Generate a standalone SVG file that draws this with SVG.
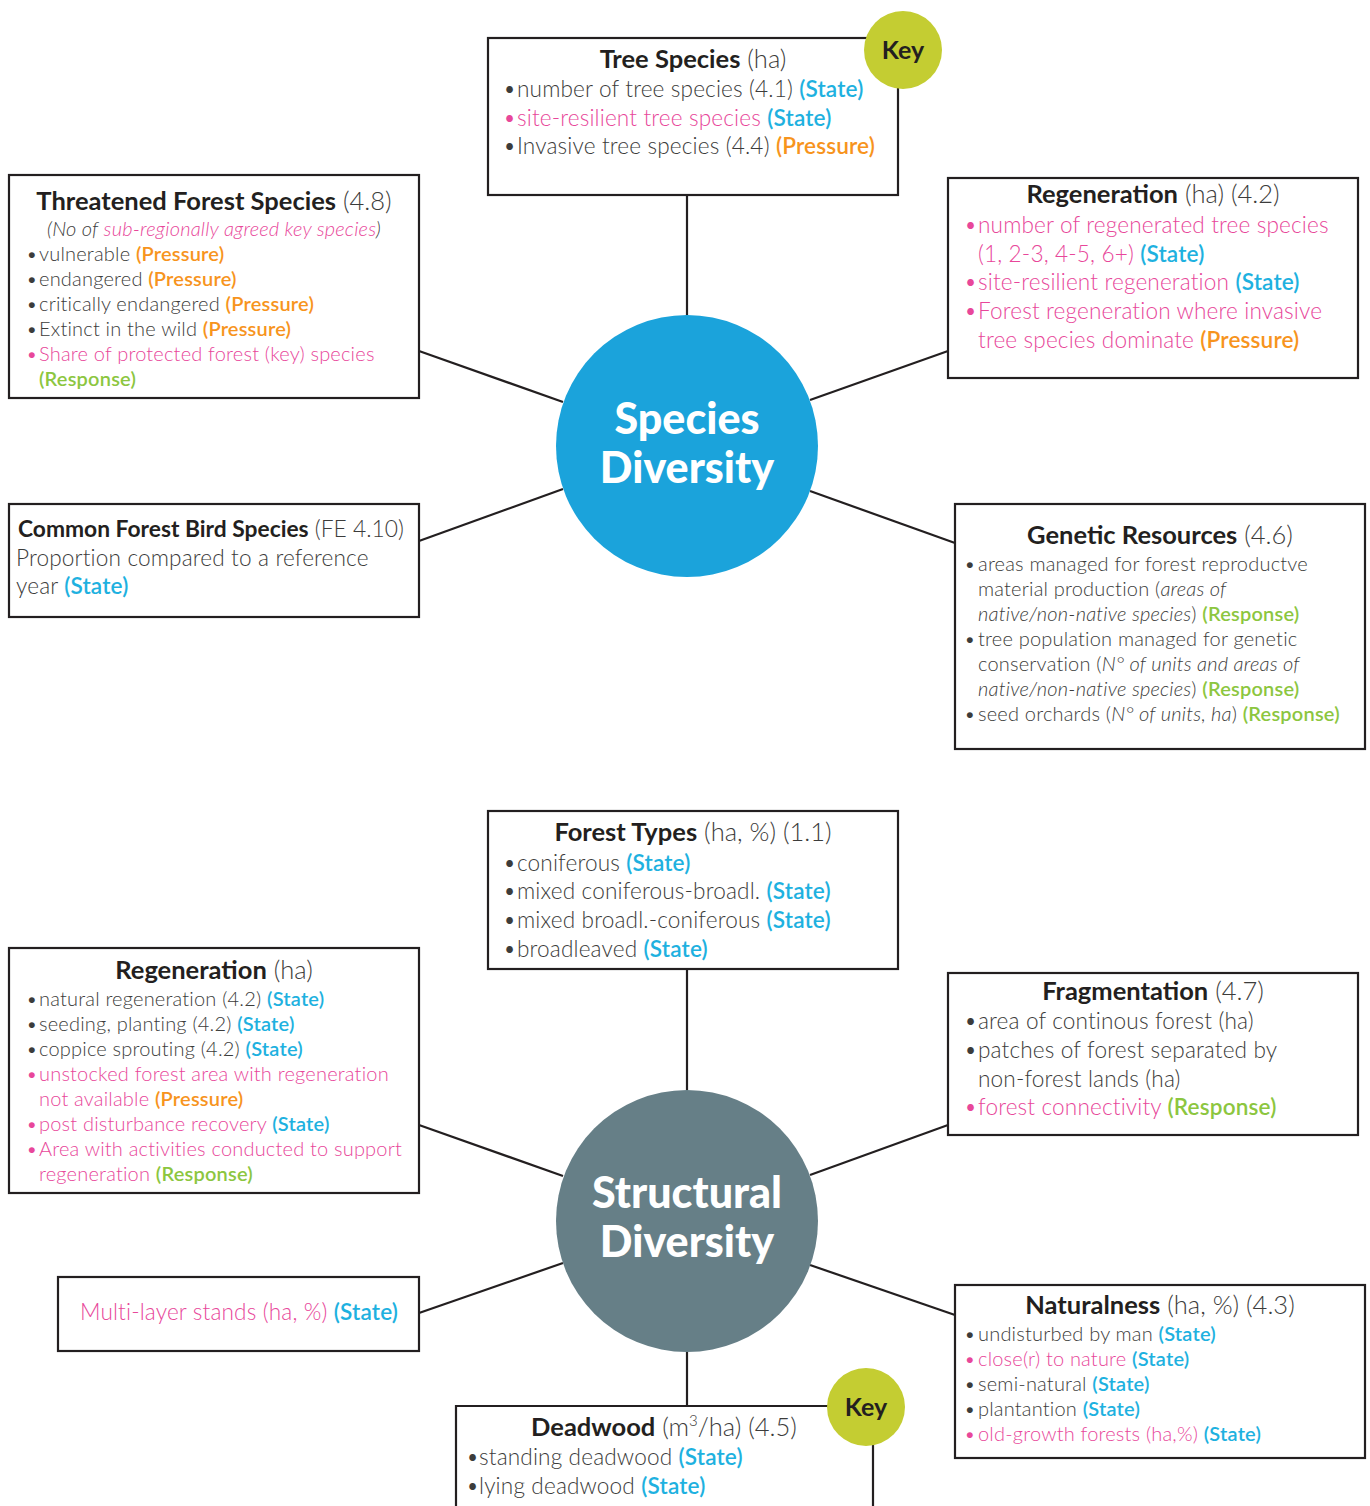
<svg xmlns="http://www.w3.org/2000/svg" width="1370" height="1506" viewBox="0 0 1370 1506">
<style>
.box{fill:#fff;stroke:#231f20;stroke-width:2.2}
.ln{stroke:#231f20;stroke-width:2.2;fill:none}
text{font-family:Lato,"Open Sans","Liberation Sans",sans-serif;font-weight:300;fill:#3c3c3b}
.f22{font-size:22.6px;letter-spacing:0.15px}
.f19{font-size:20px;letter-spacing:0.2px}
.ti{font-size:25.5px}
.b{font-weight:700;fill:#231f20}
.p{fill:#e8479a}
.s{fill:#1eb1e0;font-weight:600}
.o{fill:#f7941d;font-weight:600}
.g{fill:#8cc63f;font-weight:600}
.i{font-style:italic}
.c{text-anchor:middle}
.ct{font-weight:900;fill:#fff;font-size:43px;text-anchor:middle}
.key{fill:#c4cd32}
.kt{font-weight:700;fill:#231f20;font-size:25px;text-anchor:middle}
</style>
<rect width="1370" height="1506" fill="#fff"/>
<g id="connectors">
<line class="ln" x1="687" y1="195" x2="687" y2="316"/>
<line class="ln" x1="419" y1="351" x2="563" y2="402"/>
<line class="ln" x1="419" y1="541" x2="563" y2="489"/>
<line class="ln" x1="948" y1="351" x2="810" y2="400"/>
<line class="ln" x1="810" y1="491" x2="955" y2="543"/>
<line class="ln" x1="687" y1="969" x2="687" y2="1090"/>
<line class="ln" x1="419" y1="1125" x2="563" y2="1176"/>
<line class="ln" x1="419" y1="1313" x2="563" y2="1263"/>
<line class="ln" x1="948" y1="1125" x2="810" y2="1175"/>
<line class="ln" x1="810" y1="1265" x2="955" y2="1315"/>
<line class="ln" x1="687" y1="1352" x2="687" y2="1406"/>
</g>
<g id="species-diversity">
<circle cx="687" cy="446" r="131" fill="#1ba3db"/>
<text class="ct" x="687" y="434">Species</text>
<text class="ct" x="687" y="483">Diversity</text>
</g>
<g id="structural-diversity">
<circle cx="687" cy="1221" r="131" fill="#667f87"/>
<text class="ct" x="687" y="1208">Structural</text>
<text class="ct" x="687" y="1257">Diversity</text>
</g>
<g id="tree-species">
<rect class="box" x="488" y="38" width="410" height="157"/>
<text class="ti c" x="693" y="68"><tspan class="b">Tree Species</tspan> (ha)</text>
<text class="f22" x="503" y="97">•<tspan x="517">number of tree species (4.1) <tspan class="s">(State)</tspan></tspan></text>
<text class="f22 p" x="503" y="126">•<tspan x="517">site-resilient tree species <tspan class="s">(State)</tspan></tspan></text>
<text class="f22" x="503" y="154">•<tspan x="517">Invasive tree species (4.4) <tspan class="o">(Pressure)</tspan></tspan></text>
</g>
<g id="key-top">
<circle class="key" cx="903" cy="50" r="39"/>
<text class="kt" x="903" y="59">Key</text>
</g>
<g id="threatened">
<rect class="box" x="9" y="175" width="410" height="223"/>
<text class="ti c" x="214" y="210"><tspan class="b">Threatened Forest Species</tspan> (4.8)</text>
<text class="f19 c i" x="214" y="236">(No of <tspan class="p">sub-regionally agreed key species</tspan>)</text>
<text class="f19" x="26" y="261">•<tspan x="39">vulnerable <tspan class="o">(Pressure)</tspan></tspan></text>
<text class="f19" x="26" y="286">•<tspan x="39">endangered <tspan class="o">(Pressure)</tspan></tspan></text>
<text class="f19" x="26" y="311">•<tspan x="39">critically endangered <tspan class="o">(Pressure)</tspan></tspan></text>
<text class="f19" x="26" y="336">•<tspan x="39">Extinct in the wild <tspan class="o">(Pressure)</tspan></tspan></text>
<text class="f19 p" x="26" y="361">•<tspan x="39">Share of protected forest (key) species</tspan></text>
<text class="f19 g" x="39" y="386">(Response)</text>
</g>
<g id="regeneration-top">
<rect class="box" x="948" y="178" width="410" height="200"/>
<text class="ti c" x="1153" y="203"><tspan class="b">Regeneration</tspan> (ha) (4.2)</text>
<text class="f22 p" x="964" y="233">•<tspan x="978">number of regenerated tree species</tspan></text>
<text class="f22 p" x="978" y="262">(1, 2-3, 4-5, 6+) <tspan class="s">(State)</tspan></text>
<text class="f22 p" x="964" y="290">•<tspan x="978">site-resilient regeneration <tspan class="s">(State)</tspan></tspan></text>
<text class="f22 p" x="964" y="319">•<tspan x="978">Forest regeneration where invasive</tspan></text>
<text class="f22 p" x="978" y="348">tree species dominate <tspan class="o">(Pressure)</tspan></text>
</g>
<g id="bird-species">
<rect class="box" x="9" y="504" width="410" height="113"/>
<text class="f22" x="18" y="537" style="font-size:22.8px;letter-spacing:0"><tspan class="b">Common Forest Bird Species</tspan> (FE 4.10)</text>
<text class="f22" x="16" y="566">Proportion compared to a reference</text>
<text class="f22" x="16" y="594">year <tspan class="s">(State)</tspan></text>
</g>
<g id="genetic-resources">
<rect class="box" x="955" y="504" width="410" height="245"/>
<text class="ti c" x="1160" y="544"><tspan class="b">Genetic Resources</tspan> (4.6)</text>
<text class="f19" x="964" y="571">•<tspan x="978">areas managed for forest reproductve</tspan></text>
<text class="f19" x="978" y="596">material production (<tspan class="i">areas of</tspan></text>
<text class="f19" x="978" y="621"><tspan class="i">native/non-native species</tspan>) <tspan class="g">(Response)</tspan></text>
<text class="f19" x="964" y="646">•<tspan x="978">tree population managed for genetic</tspan></text>
<text class="f19" x="978" y="671">conservation (<tspan class="i">N° of units and areas of</tspan></text>
<text class="f19" x="978" y="696"><tspan class="i">native/non-native species</tspan>) <tspan class="g">(Response)</tspan></text>
<text class="f19" x="964" y="721">•<tspan x="978">seed orchards (<tspan class="i">N° of units, ha</tspan>) <tspan class="g">(Response)</tspan></tspan></text>
</g>
<g id="forest-types">
<rect class="box" x="488" y="811" width="410" height="158"/>
<text class="ti c" x="693" y="841"><tspan class="b">Forest Types</tspan> (ha, %) (1.1)</text>
<text class="f22" x="503" y="871">•<tspan x="517">coniferous <tspan class="s">(State)</tspan></tspan></text>
<text class="f22" x="503" y="899">•<tspan x="517">mixed coniferous-broadl. <tspan class="s">(State)</tspan></tspan></text>
<text class="f22" x="503" y="928">•<tspan x="517">mixed broadl.-coniferous <tspan class="s">(State)</tspan></tspan></text>
<text class="f22" x="503" y="957">•<tspan x="517">broadleaved <tspan class="s">(State)</tspan></tspan></text>
</g>
<g id="regeneration-bottom">
<rect class="box" x="9" y="948" width="410" height="245"/>
<text class="ti c" x="214" y="979"><tspan class="b">Regeneration</tspan> (ha)</text>
<text class="f19" x="26" y="1006">•<tspan x="39">natural regeneration (4.2) <tspan class="s">(State)</tspan></tspan></text>
<text class="f19" x="26" y="1031">•<tspan x="39">seeding, planting (4.2) <tspan class="s">(State)</tspan></tspan></text>
<text class="f19" x="26" y="1056">•<tspan x="39">coppice sprouting (4.2) <tspan class="s">(State)</tspan></tspan></text>
<text class="f19 p" x="26" y="1081">•<tspan x="39">unstocked forest area with regeneration</tspan></text>
<text class="f19 p" x="39" y="1106">not available <tspan class="o">(Pressure)</tspan></text>
<text class="f19 p" x="26" y="1131">•<tspan x="39">post disturbance recovery <tspan class="s">(State)</tspan></tspan></text>
<text class="f19 p" x="26" y="1156">•<tspan x="39">Area with activities conducted to support</tspan></text>
<text class="f19 p" x="39" y="1181">regeneration <tspan class="g">(Response)</tspan></text>
</g>
<g id="fragmentation">
<rect class="box" x="948" y="973" width="410" height="162"/>
<text class="ti c" x="1153" y="1000"><tspan class="b">Fragmentation</tspan> (4.7)</text>
<text class="f22" x="964" y="1029">•<tspan x="978">area of continous forest (ha)</tspan></text>
<text class="f22" x="964" y="1058">•<tspan x="978">patches of forest separated by</tspan></text>
<text class="f22" x="978" y="1087">non-forest lands (ha)</text>
<text class="f22 p" x="964" y="1115">•<tspan x="978">forest connectivity <tspan class="g">(Response)</tspan></tspan></text>
</g>
<g id="multi-layer">
<rect class="box" x="58" y="1277" width="361" height="74"/>
<text class="f22 p c" x="239" y="1320">Multi-layer stands (ha, %) <tspan class="s">(State)</tspan></text>
</g>
<g id="naturalness">
<rect class="box" x="955" y="1285" width="410" height="173"/>
<text class="ti c" x="1160" y="1314"><tspan class="b">Naturalness</tspan> (ha, %) (4.3)</text>
<text class="f19" x="964" y="1341">•<tspan x="978">undisturbed by man <tspan class="s">(State)</tspan></tspan></text>
<text class="f19 p" x="964" y="1366">•<tspan x="978">close(r) to nature <tspan class="s">(State)</tspan></tspan></text>
<text class="f19" x="964" y="1391">•<tspan x="978">semi-natural <tspan class="s">(State)</tspan></tspan></text>
<text class="f19" x="964" y="1416">•<tspan x="978">plantantion <tspan class="s">(State)</tspan></tspan></text>
<text class="f19 p" x="964" y="1441">•<tspan x="978">old-growth forests (ha,%) <tspan class="s">(State)</tspan></tspan></text>
</g>
<g id="deadwood">
<path class="box" d="M456,1512 V1406 H873 V1512"/>
<text class="ti c" x="664" y="1436"><tspan class="b">Deadwood</tspan> (m<tspan font-size="15" dy="-10">3</tspan><tspan dy="10">/ha) (4.5)</tspan></text>
<text class="f22" x="466" y="1465">•<tspan x="479">standing deadwood <tspan class="s">(State)</tspan></tspan></text>
<text class="f22" x="466" y="1494">•<tspan x="479">lying deadwood <tspan class="s">(State)</tspan></tspan></text>
</g>
<g id="key-bottom">
<circle class="key" cx="866" cy="1407" r="39"/>
<text class="kt" x="866" y="1416">Key</text>
</g>
</svg>
